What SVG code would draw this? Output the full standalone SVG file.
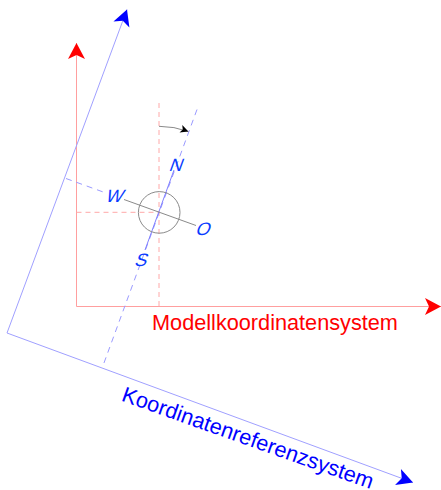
<svg xmlns="http://www.w3.org/2000/svg" width="441" height="490" viewBox="0 0 441 490">
<style>
.red{stroke:#ff9f9f;stroke-width:1;fill:none}
.reddash{stroke:#ffa8a8;stroke-width:1;fill:none;stroke-dasharray:5,4}
.blue{stroke:#a0a0ff;stroke-width:1;fill:none}
.bluedash{stroke:#9a9aff;stroke-width:1;fill:none;stroke-dasharray:6,5}
.gray{stroke:#8a8a8a;stroke-width:1;fill:none}
.lbl{font-family:"Liberation Sans",Arial,sans-serif;font-size:18px;fill:#0a3cff;text-anchor:middle}
.big{font-family:"Liberation Sans",Arial,sans-serif;font-size:21.7px}
</style>
<defs>
<marker id="ar" markerUnits="userSpaceOnUse" markerWidth="20" markerHeight="20" refX="16" refY="9" orient="auto" overflow="visible">
<path d="M0,0.5 L16,9 L0,17.5 L4,9 Z" fill="#ff0000"/>
</marker>
<marker id="ab" markerUnits="userSpaceOnUse" markerWidth="20" markerHeight="20" refX="16" refY="9" orient="auto" overflow="visible">
<path d="M0,0.5 L16,9 L0,17.5 L4,9 Z" fill="#0000ff"/>
</marker>
<marker id="ak" markerUnits="userSpaceOnUse" markerWidth="10" markerHeight="10" refX="8" refY="4" orient="auto" overflow="visible">
<path d="M0,0 L8,4 L0,8 L2,4 Z" fill="#000"/>
</marker>
</defs>
<g id="connectors">
<line class="red" x1="76.5" y1="306.5" x2="76.5" y2="43" marker-end="url(#ar)"/>
<line class="red" x1="76.5" y1="306.5" x2="441" y2="306.5" marker-end="url(#ar)"/>
<line class="blue" x1="7" y1="333" x2="127" y2="9.5" marker-end="url(#ab)"/>
<line class="blue" x1="7" y1="333" x2="413" y2="482.5" marker-end="url(#ab)"/>
<line class="reddash" x1="159" y1="103" x2="159" y2="306"/>
<line class="reddash" x1="76.5" y1="212.3" x2="159" y2="212.3"/>
<line class="bluedash" x1="197" y1="109.5" x2="102.5" y2="367"/>
<line class="bluedash" x1="66" y1="178.5" x2="104" y2="192.3"/>
<line x1="174" y1="170" x2="145" y2="250" stroke="#7f7fff" stroke-width="1"/>
<line class="gray" x1="124" y1="199.5" x2="196" y2="225.5"/>
<path class="gray" d="M159,126.3 A86,86 0 0 1 188.4,131.5" marker-end="url(#ak)"/>
</g>
<g id="compass">
<circle class="gray" cx="159.2" cy="212.4" r="20.8" stroke="#999"/>
</g>
<g id="label-N" transform="translate(177,164.3) skewX(-20)"><text class="lbl" x="0" y="6.4">N</text></g>
<g id="label-W" transform="translate(115.5,195.3) skewX(-20)"><text class="lbl" x="0" y="6.4">W</text></g>
<g id="label-O" transform="translate(204,229) skewX(-20)"><text class="lbl" x="0" y="6.4">O</text></g>
<g id="label-S" transform="translate(142.2,260) skewX(-20)"><text class="lbl" x="0" y="6.4">S</text></g>
<g id="modell"><text class="big" x="152" y="330" fill="#ff0000">Modellkoordinatensystem</text></g>
<g id="referenz"><text class="big" x="0" y="0" fill="#0000ff" transform="translate(120.5,400.5) rotate(19.5)">Koordinatenreferenzsystem</text></g>
</svg>
